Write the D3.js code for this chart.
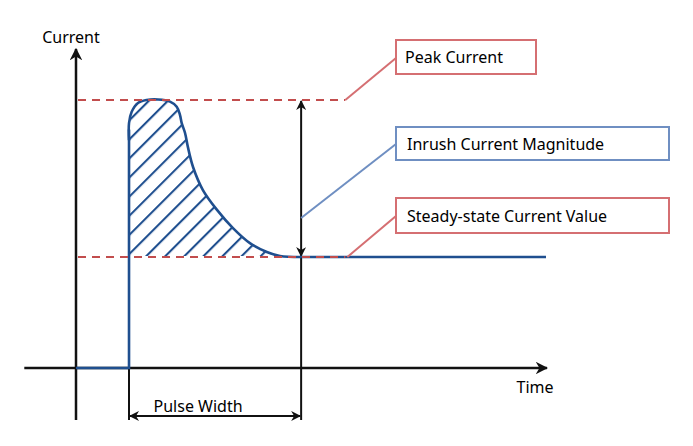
<!DOCTYPE html>
<html>
<head>
<meta charset="utf-8">
<script src="https://cdn.jsdelivr.net/npm/d3@7"></script>
<style>
  html, body { margin: 0; padding: 0; background: #fff; }
  svg text { font-family: "Noto Sans", "Open Sans", sans-serif; fill: #000; }
</style>
</head>
<body>
<div id="chart"></div>
<script>
// current trace (time units, current units)
const riseTrace = [
  { t: 0, i: 0 }, { t: 1.128, i: 0 }, { t: 1.128, i: 8.9 }
];
const decayTrace = [
  { t: 1.128, i: 8.5 }, { t: 1.128, i: 9.14 }, { t: 1.185, i: 9.56 },
  { t: 1.319, i: 9.89 }, { t: 1.504, i: 10 }, { t: 1.745, i: 10.02 },
  { t: 2.0, i: 9.94 }, { t: 2.143, i: 9.75 }, { t: 2.213, i: 9.44 },
  { t: 2.249, i: 9.14 }, { t: 2.32, i: 8.77 }, { t: 2.38, i: 8.25 },
  { t: 2.49, i: 7.5 }, { t: 2.70, i: 6.64 }, { t: 3.0, i: 5.9 },
  { t: 3.34, i: 5.22 }, { t: 3.70, i: 4.66 }, { t: 4.06, i: 4.33 },
  { t: 4.34, i: 4.18 }, { t: 4.79, i: 4.14 }
];
const steadyTail = [ { t: 4.79, i: 4.14 }, { t: 10, i: 4.14 } ];

const peakCurrent = 10;
const steadyCurrent = 4.14;
const pulseStart = 1.128;
const pulseEnd = 4.79;
const guideEnd = 5.73;   // where the dashed guides stop

const labels = ["Peak Current", "Inrush Current Magnitude", "Steady-state Current Value"];
const axisLabels = ["Current", "Time", "Pulse Width"];

const width = 693, height = 446;
const svg = d3.select("#chart").append("svg")
  .attr("width", width).attr("height", height);

const x = d3.scaleLinear().domain([0, 10]).range([76, 546]);
const y = d3.scaleLinear().domain([0, 10]).range([368, 100]);

const blue = "#1f4f8f";
const red = "#c24d4d";

const defs = svg.append("defs");
defs.append("marker")
  .attr("id", "arr")
  .attr("viewBox", "0 0 10 10")
  .attr("refX", 9).attr("refY", 5)
  .attr("markerWidth", 5).attr("markerHeight", 5)
  .attr("markerUnits", "strokeWidth")
  .attr("orient", "auto-start-reverse")
  .append("path")
  .attr("d", "M0,0 L10,5 L0,10 L3,5 z")
  .attr("fill", "#111");

defs.append("pattern")
  .attr("id", "hatch")
  .attr("patternUnits", "userSpaceOnUse")
  .attr("width", 13.5).attr("height", 13.5)
  .attr("patternTransform", "rotate(45)")
  .append("line")
  .attr("x1", 1).attr("y1", 0).attr("x2", 1).attr("y2", 13.5)
  .attr("stroke", blue).attr("stroke-width", 2.2);

// hatched inrush area between the decay curve and the steady level
const area = d3.area()
  .x(d => x(d.t))
  .y0(y(steadyCurrent) - 1)
  .y1(d => y(d.i))
  .curve(d3.curveCatmullRom.alpha(0.5));
svg.append("path")
  .datum(decayTrace.slice(1))
  .attr("d", area)
  .attr("fill", "url(#hatch)");

// axes
svg.append("line")
  .attr("x1", x(-1.1)).attr("y1", y(0))
  .attr("x2", x(10.02)).attr("y2", y(0))
  .attr("stroke", "#111").attr("stroke-width", 2.5)
  .attr("marker-end", "url(#arr)");
svg.append("line")
  .attr("x1", x(0)).attr("y1", y(-1.94))
  .attr("x2", x(0)).attr("y2", y(11.9))
  .attr("stroke", "#111").attr("stroke-width", 2.5)
  .attr("marker-end", "url(#arr)");

// pulse width bracket
svg.append("line")
  .attr("x1", x(pulseStart)).attr("y1", y(0))
  .attr("x2", x(pulseStart)).attr("y2", y(-1.94))
  .attr("stroke", "#111").attr("stroke-width", 2);
svg.append("line")
  .attr("x1", x(pulseEnd)).attr("y1", y(steadyCurrent))
  .attr("x2", x(pulseEnd)).attr("y2", y(-1.94))
  .attr("stroke", "#111").attr("stroke-width", 2);
svg.append("line")
  .attr("x1", x(pulseStart) + 1).attr("y1", y(-1.79))
  .attr("x2", x(pulseEnd) - 1).attr("y2", y(-1.79))
  .attr("stroke", "#111").attr("stroke-width", 2)
  .attr("marker-start", "url(#arr)").attr("marker-end", "url(#arr)");
svg.append("text")
  .attr("x", (x(pulseStart) + x(pulseEnd)) / 2 - 17).attr("y", y(-1.64))
  .attr("text-anchor", "middle")
  .style("font-size", "16px")
  .text(axisLabels[2]);

// magnitude double arrow
svg.append("line")
  .attr("x1", x(pulseEnd)).attr("y1", y(peakCurrent) + 1)
  .attr("x2", x(pulseEnd)).attr("y2", y(steadyCurrent) - 1)
  .attr("stroke", "#111").attr("stroke-width", 2)
  .attr("marker-start", "url(#arr)").attr("marker-end", "url(#arr)");

// current trace
const lin = d3.line().x(d => x(d.t)).y(d => y(d.i));
const smooth = d3.line().x(d => x(d.t)).y(d => y(d.i)).curve(d3.curveCatmullRom.alpha(0.5));
[riseTrace, steadyTail].forEach(seg => {
  svg.append("path").datum(seg).attr("d", lin)
    .attr("fill", "none").attr("stroke", blue).attr("stroke-width", 2.6);
});
svg.append("path").datum(decayTrace).attr("d", smooth)
  .attr("fill", "none").attr("stroke", blue).attr("stroke-width", 2.6);

// dashed guides
[peakCurrent, steadyCurrent].forEach(v => {
  svg.append("line")
    .attr("x1", x(0) + 2).attr("y1", y(v))
    .attr("x2", x(guideEnd)).attr("y2", y(v))
    .attr("stroke", red).attr("stroke-width", 2)
    .attr("stroke-dasharray", "8,6");
});

// callout boxes
const boxes = [
  { x: 396, y: 40, w: 140, h: 34, color: "#d56f72", ax: x(guideEnd), ay: y(peakCurrent), ly: 58 },
  { x: 396, y: 127, w: 273, h: 33, color: "#6f8fc2", ax: x(pulseEnd), ay: 218, ly: 144 },
  { x: 396, y: 198, w: 273, h: 35, color: "#d56f72", ax: x(guideEnd) + 2, ay: y(steadyCurrent), ly: 216 }
];
boxes.forEach((b, k) => {
  svg.append("line")
    .attr("x1", b.ax).attr("y1", b.ay)
    .attr("x2", b.x).attr("y2", b.ly)
    .attr("stroke", b.color).attr("stroke-width", 2);
  svg.append("rect")
    .attr("x", b.x).attr("y", b.y).attr("width", b.w).attr("height", b.h)
    .attr("fill", "#fff").attr("stroke", b.color).attr("stroke-width", 2);
  svg.append("text")
    .attr("x", b.x + (k === 0 ? 9 : 11)).attr("y", b.y + b.h / 2 + 6)
    .style("font-size", "16px")
    .text(labels[k]);
});

// axis titles
svg.append("text")
  .attr("x", 71).attr("y", 43)
  .attr("text-anchor", "middle")
  .style("font-size", "16px")
  .text(axisLabels[0]);
svg.append("text")
  .attr("x", 535).attr("y", 393)
  .attr("text-anchor", "middle")
  .style("font-size", "16px")
  .text(axisLabels[1]);
</script>
</body>
</html>
